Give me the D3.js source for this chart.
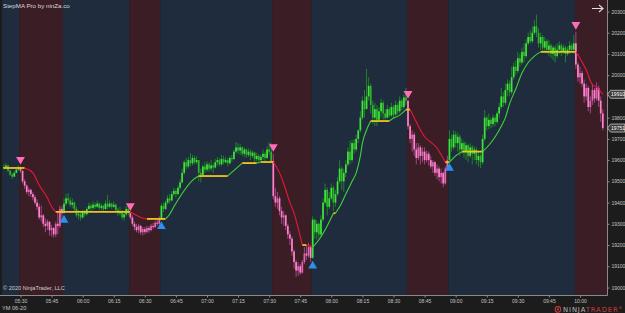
<!DOCTYPE html>
<html><head><meta charset="utf-8">
<script src="https://cdn.jsdelivr.net/npm/d3@7/dist/d3.min.js"></script>
<style>
body{margin:0;background:#1c1c1c;}
svg{display:block;font-family:"Liberation Sans",Arial,sans-serif;}
</style></head><body>
<svg width="625" height="313" viewBox="0 0 625 313"></svg>
<script>
// YM 06-20, 1 minute bars, first bar 05:22
const startMinute = 5 * 60 + 22;
const firstOpen = 19560;

const close = [
  19568,19575,19550,19532,19522,19540,19555,19565,
  19550,19500,19480,19450,19460,19440,19425,19400,19380,19330,19340,19300,19290,19310,19270,19280,19250,19300,19290,19370,19350,
  19395,19420,19410,19390,19400,19370,19340,19345,19330,19355,19345,19370,19385,19375,19390,19380,19395,19375,19385,19370,19395,19380,19395,19380,19390,19365,19350,19360,19330,19345,19370,19350,
  19330,19300,19285,19270,19290,19260,19275,19262,19280,19270,19290,19285,19305,19300,19320,
  19385,19370,19400,19420,19410,19440,19455,19440,19470,19495,
  19540,19590,19570,19600,19585,19610,19590,19600,19540,19530,
  19570,19555,19580,19560,19575,19565,19590,19600,19580,19605,
  19590,19600,19585,19610,19605,19640,19660,19645,19660,19630,
  19650,19625,19640,19620,19635,19605,19620,19600,19615,19630,
  19610,19650,19640,19595,
  19430,19400,19420,19360,19330,19340,19290,19250,19230,19170,19120,19080,19100,19070,19120,19160,19150,19190,19140,
  19320,19260,19300,19250,19320,19400,19460,19380,19420,19470,
  19400,19440,19500,19560,19500,19540,19580,19640,19600,19680,
  19650,19700,19740,19800,19880,19840,19900,19950,19860,19800,
  19840,19790,19830,19870,19820,19800,19840,19810,19850,19815,
  19860,19830,19880,19850,19895,19880,
  19760,19700,19720,19650,19610,19660,19620,19640,19600,19630,
  19600,19570,19590,19540,19560,19520,19540,19490,19560,19600,
  19700,19660,19720,19680,19710,19650,19680,19640,19670,19620,
  19660,19630,19650,19600,19620,19590,19700,19800,19760,19790,
  19770,19800,19780,19820,19850,19900,19870,19930,19960,19920,
  19990,20040,20020,20080,20060,20110,20090,20150,20180,20160,
  20200,20230,20200,20150,20180,20130,20160,20120,20140,20100,
  20130,20090,20120,20140,20110,20130,20100,20120,20140,20120,
  20150,
  20050,19990,20010,19960,19900,19940,19850,19880,19930,19890,19940,19880,19820,19751
];

const high = [
  19580,19585,19578,19552,19540,19548,19565,19575,
  19570,19545,19510,19485,19470,19465,19450,19435,19415,19395,19385,19345,19325,19320,19310,19295,19285,19310,19360,19385,19385,
  19420,19440,19445,19425,19420,19405,19380,19365,19355,19365,19365,19380,19400,19395,19405,19400,19410,19400,19395,19390,19410,19436,19410,19400,19405,19395,19375,19380,19365,19360,19385,19380,
  19352,19340,19310,19300,19300,19295,19285,19285,19290,19290,19300,19305,19315,19325,19335,
  19395,19400,19410,19435,19440,19455,19470,19465,19480,19510,
  19560,19600,19610,19615,19633,19625,19620,19618,19600,19560,
  19580,19590,19595,19590,19600,19585,19605,19615,19610,19625,
  19620,19615,19610,19620,19625,19650,19685,19680,19675,19665,
  19660,19655,19655,19650,19645,19640,19635,19630,19625,19650,
  19640,19665,19685,19680,
  19630,19470,19450,19430,19380,19360,19345,19300,19265,19240,19180,19130,19120,19110,19130,19190,19200,19210,19200,
  19335,19320,19315,19305,19340,19420,19490,19470,19450,19490,
  19480,19460,19520,19600,19570,19560,19600,19660,19690,19695,
  19700,19720,19745,19830,19900,19930,20030,19990,19960,19880,
  19870,19860,19850,19890,19880,19840,19860,19850,19870,19860,
  19880,19870,19900,19890,19910,19940,
  19865,19770,19740,19730,19680,19680,19670,19660,19660,19645,
  19640,19620,19600,19595,19580,19570,19560,19545,19570,19620,
  19740,19720,19740,19735,19730,19720,19700,19690,19685,19675,
  19680,19670,19665,19660,19640,19630,19720,19836,19810,19820,
  19800,19815,19810,19830,19870,19940,19920,19960,19980,19975,
  20040,20060,20070,20110,20100,20130,20150,20170,20200,20210,
  20230,20260,20285,20220,20200,20190,20180,20170,20165,20150,
  20140,20140,20150,20160,20150,20145,20140,20135,20160,20150,
  20190,
  20205,20060,20040,20020,19980,19960,19950,19900,19960,19940,19965,19950,19900,19840
];

const low = [
  19555,19560,19545,19525,19512,19520,19538,19550,
  19540,19490,19465,19440,19430,19425,19410,19390,19365,19320,19310,19285,19260,19270,19245,19240,19235,19238,19250,19280,19320,
  19350,19385,19395,19380,19375,19355,19330,19320,19315,19325,19335,19340,19365,19360,19365,19370,19375,19365,19365,19360,19365,19370,19375,19370,19375,19355,19335,19340,19320,19315,19335,19340,
  19320,19290,19270,19260,19255,19248,19245,19250,19255,19258,19265,19275,19280,19290,19295,
  19350,19355,19365,19390,19395,19405,19430,19425,19435,19460,
  19490,19530,19555,19560,19570,19575,19580,19580,19500,19495,
  19520,19540,19545,19545,19550,19540,19560,19575,19570,19575,
  19580,19585,19570,19580,19590,19600,19630,19630,19625,19620,
  19615,19610,19615,19600,19610,19590,19595,19585,19590,19600,
  19590,19605,19625,19590,
  19415,19380,19370,19340,19300,19290,19270,19230,19200,19150,19090,19050,19055,19060,19065,19110,19130,19140,19120,
  19135,19230,19225,19235,19240,19310,19390,19340,19370,19410,
  19360,19380,19430,19490,19460,19450,19520,19570,19580,19590,
  19630,19640,19680,19730,19790,19800,19860,19880,19820,19770,
  19760,19760,19780,19800,19790,19790,19795,19800,19805,19800,
  19810,19815,19820,19835,19840,19860,
  19745,19680,19640,19620,19580,19600,19580,19590,19580,19590,
  19575,19560,19540,19525,19510,19500,19490,19472,19485,19550,
  19595,19640,19650,19660,19640,19620,19630,19610,19600,19590,
  19610,19580,19600,19580,19570,19563,19580,19690,19740,19745,
  19750,19755,19760,19770,19800,19840,19850,19860,19900,19900,
  19910,19980,20000,20010,20040,20050,20060,20080,20140,20150,
  20150,20190,20180,20130,20120,20110,20110,20100,20090,20080,
  20070,20060,20080,20100,20090,20100,20060,20090,20100,20110,
  20100,
  20030,19970,19960,19945,19870,19880,19830,19820,19860,19870,19880,19850,19780,19740
];

// StepMA trend flips (bar index) and new direction
const switchBars = [8, 29, 61, 76, 130, 149, 195, 215, 276];
const switchDirs = [-1, 1, -1, 1, -1, 1, -1, 1, -1];

// StepMA line, read at bar indexes
const maIndex = [0,10,14,17,21,23,25, 61,63,66,69, 78,80,82,86,91,94, 108,112,115, 122,124,
  130,133,135,138,140,142,144, 146,149, 152,156,159,160,162,165,168,170,172,173,175,177,
  186,188,191,194, 196,198,201,203,206,209,211,213, 215,218,221,
  231,234,237,240,242,244,247,250,253,256,259, 276,278,281,284,286,289];
const maValue = [19563,19563,19540,19483,19422,19380,19356, 19356,19345,19330,19323, 19323,19345,19380,19443,19505,19525, 19525,19560,19586, 19586,19591,
  19591,19540,19490,19400,19350,19280,19200, 19200,19190, 19225,19290,19350,19350,19380,19440,19500,19540,19620,19680,19742,19784,
  19784,19798,19812,19838, 19838,19800,19742,19710,19685,19657,19625,19590, 19590,19620,19640,
  19640,19670,19709,19760,19800,19865,19935,20010,20060,20090,20110, 20110,20080,20024,19955,19944,19910];

const yTicks = [19000,19100,19200,19300,19400,19500,19600,19700,19800,19900,20000,20100,20200,20300];
const xTickLabels = ["05:30","05:45","06:00","06:15","06:30","06:45","07:00","07:15","07:30","07:45",
  "08:00","08:15","08:30","08:45","09:00","09:15","09:30","09:45","10:00"];

const svg = d3.select("svg");
const W = 625, H = 313;
const plot = {left: 2, right: 607, top: 0, bottom: 295};
const axisFont = "Liberation Sans, Arial, sans-serif";

const toMin = s => +s.slice(0, 2) * 60 + +s.slice(3);
const x = d3.scaleLinear().domain([toMin("05:30"), toMin("10:00")]).range([20.5, 580]);
const y = d3.scaleLinear().domain([19000, 20300]).range([287.5, 11.5]);
const bx = i => x(startMinute + i);
const step = bx(1) - bx(0);

// trend per bar
const trend = close.map((d, i) => {
  let t = 1;
  switchBars.forEach((b, k) => { if (i >= b) t = switchDirs[k]; });
  return t;
});

svg.append("rect").attr("width", W).attr("height", H).attr("fill", "#1c1c1c");

svg.append("clipPath").attr("id", "clip").append("rect")
  .attr("x", plot.left).attr("y", plot.top)
  .attr("width", plot.right - plot.left).attr("height", plot.bottom - plot.top);

const g = svg.append("g").attr("clip-path", "url(#clip)");

// background bands
const edges = [plot.left].concat(switchBars.map(b => bx(b) - step / 2), [plot.right]);
const bandDirs = [1].concat(switchDirs);
g.selectAll(".band").data(bandDirs).join("rect")
  .attr("x", (d, k) => edges[k])
  .attr("y", plot.top)
  .attr("width", (d, k) => edges[k + 1] - edges[k])
  .attr("height", plot.bottom - plot.top)
  .attr("fill", d => d > 0 ? "#1e2c3d" : "#3b1e25");

// bars
const bars = close.map((c, i) => {
  const o = i ? close[i - 1] : firstOpen;
  return {i, o, c, h: Math.max(high[i], o, c), l: Math.min(low[i], o, c), t: trend[i]};
});
const wickCol = d => d.t > 0 ? "#23802a" : "#a24680";
const bodyCol = d => d.t > 0 ? (d.c >= d.o ? "#3fe63a" : "#2fb52c") : (d.c <= d.o ? "#ff82cf" : "#e065b4");

g.selectAll(".wick").data(bars).join("line")
  .attr("x1", d => bx(d.i)).attr("x2", d => bx(d.i))
  .attr("y1", d => y(d.h)).attr("y2", d => y(d.l))
  .attr("stroke", wickCol).attr("stroke-width", 1);

g.selectAll(".body").data(bars).join("rect")
  .attr("x", d => bx(d.i) - 0.85).attr("width", 1.7)
  .attr("y", d => y(Math.max(d.o, d.c)))
  .attr("height", d => Math.max(1, Math.abs(y(d.o) - y(d.c))))
  .attr("fill", bodyCol);

// StepMA line in runs of same direction
const ma = maIndex.map((d, k) => ({i: d, v: maValue[k]}));
const runs = [];
for (let k = 1; k < ma.length; k++) {
  const dir = Math.sign(ma[k].v - ma[k - 1].v);
  const last = runs[runs.length - 1];
  if (last && last.dir === dir) last.pts.push(ma[k]);
  else runs.push({dir, pts: [ma[k - 1], ma[k]]});
}
const maLine = d3.line().x(d => bx(d.i)).y(d => y(d.v)).curve(d3.curveMonotoneX);
g.selectAll(".ma").data(runs).join("path")
  .attr("d", d => maLine(d.pts))
  .attr("fill", "none")
  .attr("stroke", d => d.dir > 0 ? "#3ed43a" : d.dir < 0 ? "#e8163e" : "#f0c419")
  .attr("stroke-width", d => d.dir === 0 ? 1.8 : 1.1);

// signal triangles
const tri = d3.symbol().type(d3.symbolTriangle).size(34);
g.selectAll(".sig").data(switchBars.map((b, k) => ({b, dir: switchDirs[k]}))).join("path")
  .attr("d", tri)
  .attr("transform", d => d.dir < 0
    ? `translate(${bx(d.b)},${y(bars[d.b].h) - 7}) rotate(180)`
    : `translate(${bx(d.b)},${y(bars[d.b].l) + 7})`)
  .attr("fill", d => d.dir < 0 ? "#ff6cb8" : "#2d8ff0");

// axes
svg.append("line").attr("x1", plot.right + 0.5).attr("x2", plot.right + 0.5)
  .attr("y1", 0).attr("y2", plot.bottom + 0.5).attr("stroke", "#8a8a8a");
svg.append("line").attr("x1", 0).attr("x2", plot.right + 0.5)
  .attr("y1", plot.bottom + 0.5).attr("y2", plot.bottom + 0.5).attr("stroke", "#8a8a8a");

// price markers on the axis: last StepMA value and last close
const markers = [maValue[maValue.length - 1], close[close.length - 1]];

const yAxis = svg.append("g").attr("transform", `translate(${plot.right + 0.5},0)`)
  .call(d3.axisRight(y).tickValues(yTicks.filter(t => markers.every(m => Math.abs(y(t) - y(m)) > 6)))
    .tickSize(2).tickPadding(2).tickFormat(d => d));
const xAxis = svg.append("g").attr("transform", `translate(0,${plot.bottom + 0.5})`)
  .call(d3.axisBottom(x).tickValues(xTickLabels.map(toMin)).tickSize(2).tickPadding(1.5)
    .tickFormat((d, k) => xTickLabels[k]));
[yAxis, xAxis].forEach(a => {
  a.select(".domain").remove();
  a.selectAll("line").attr("stroke", "#8a8a8a");
  a.selectAll("text").attr("fill", "#c4c4c4").attr("font-size", 5).attr("font-family", axisFont);
});

const mk = svg.selectAll(".mk").data(markers).join("g")
  .attr("transform", d => `translate(${plot.right + 0.5},${y(d)})`);
mk.append("path").attr("d", "M0,0 L3,-4 L17.3,-4 L17.3,4 L3,4 Z")
  .attr("fill", "#3c3c3c").attr("stroke", "#c9c9c9").attr("stroke-width", 0.8);
mk.append("text").attr("x", 3.6).attr("y", 1.9).attr("font-size", 5).attr("fill", "#ffffff")
  .attr("font-family", axisFont).text(d => d);

// texts
svg.append("text").attr("x", 3).attr("y", 8).attr("font-size", 6.2).attr("fill", "#d8d8d8")
  .text("StepMA Pro by ninZa.co");
svg.append("text").attr("x", 3).attr("y", 290).attr("font-size", 5.6).attr("fill", "#d0d0d0")
  .text("© 2020 NinjaTrader, LLC");
svg.append("text").attr("x", 2).attr("y", 310).attr("font-size", 5.6).attr("fill", "#c8c8c8")
  .text("YM 06-20");

// scroll arrow, top right
svg.append("path").attr("d", "M592,8.5 L603,8.5 M599,5 L603,8.5 L599,12")
  .attr("fill", "none").attr("stroke", "#e0e0e0").attr("stroke-width", 1.1);

// NinjaTrader logo
const logo = svg.append("g").attr("transform", "translate(555,312)");
logo.append("circle").attr("cx", 3).attr("cy", -2.6).attr("r", 2.8).attr("fill", "none")
  .attr("stroke", "#c23a3a").attr("stroke-width", 1.1);
logo.append("circle").attr("cx", 3).attr("cy", -2.6).attr("r", 1.1).attr("fill", "#c23a3a");
const lt = logo.append("text").attr("x", 8).attr("y", 0).attr("font-size", 6.8)
  .attr("letter-spacing", 0.9).attr("font-family", "DejaVu Sans, sans-serif");
lt.append("tspan").attr("fill", "#b8b8b8").text("NINJA");
lt.append("tspan").attr("fill", "#d33b3b").text("TRADER");
lt.append("tspan").attr("fill", "#d33b3b").attr("font-size", 3.5).attr("dy", -3).text("®");
</script>
</body></html>
